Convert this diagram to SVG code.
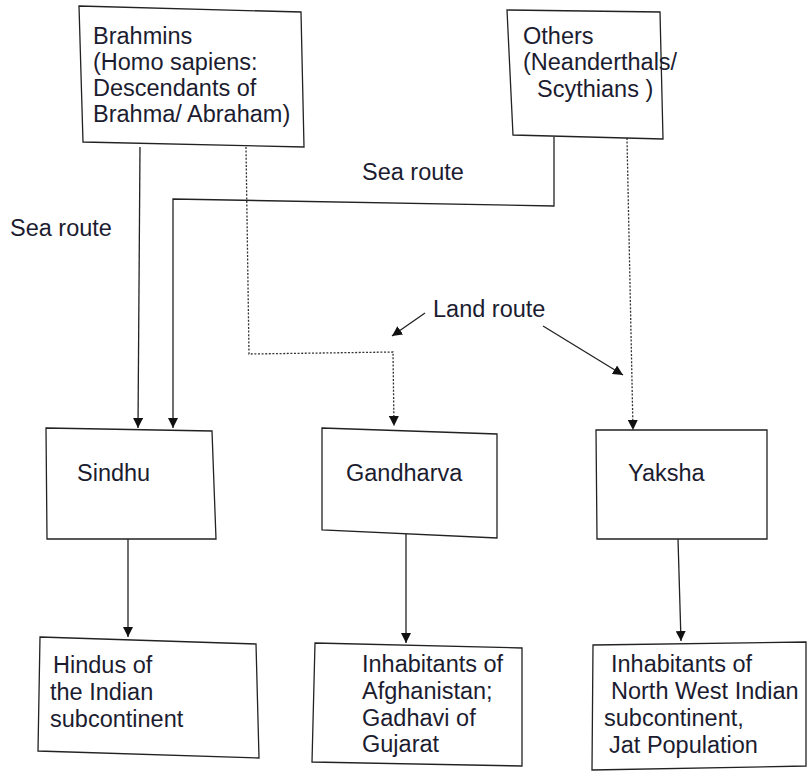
<svg xmlns="http://www.w3.org/2000/svg" width="808" height="775" viewBox="0 0 808 775">
<style>
.box{fill:#fff;stroke:#222;stroke-width:1.3}
.t{font-family:"Liberation Sans",Arial,sans-serif;font-size:23.5px;fill:#1c1c30}
.ln{fill:none;stroke:#222;stroke-width:1.3}
.dt{fill:none;stroke:#333;stroke-width:1.3;stroke-dasharray:2,1.6}
</style>
<defs>
<marker id="ah" viewBox="0 0 10 10" refX="10" refY="5" markerWidth="10" markerHeight="10" markerUnits="userSpaceOnUse" orient="auto">
<path d="M0,0 L10,5 L0,10 z" fill="#111"/>
</marker>
</defs>
<rect width="808" height="775" fill="#fff"/>
<g id="connectors">
<path class="ln" d="M140,147 L138,428" marker-end="url(#ah)"/>
<path class="ln" d="M554,137 L554,206 L173,199 L173,428" marker-end="url(#ah)"/>
<path class="dt" d="M246,147 L249,354 L393,352 L394,426" marker-end="url(#ah)"/>
<path class="dt" d="M627,138 L633,430" marker-end="url(#ah)"/>
<path class="ln" d="M425,313 L392,336" marker-end="url(#ah)"/>
<path class="ln" d="M543,326 L623,375" marker-end="url(#ah)"/>
<path class="ln" d="M128,539 L128,637" marker-end="url(#ah)"/>
<path class="ln" d="M406,532 L406,643" marker-end="url(#ah)"/>
<path class="ln" d="M678,539 L681,641" marker-end="url(#ah)"/>
</g>
<g id="brahmins">
<polygon class="box" points="79,6 301,12 304,147 83,142"/>
<text class="t" x="93" y="44">Brahmins</text>
<text class="t" x="93" y="70">(Homo sapiens:</text>
<text class="t" x="93" y="96">Descendants of</text>
<text class="t" x="93" y="122">Brahma/ Abraham)</text>
</g>
<g id="others">
<polygon class="box" points="507,10 660,12 663,139 513,135"/>
<text class="t" x="523" y="44">Others</text>
<text class="t" x="523" y="70">(Neanderthals/</text>
<text class="t" x="537" y="97">Scythians )</text>
</g>
<g id="labels">
<text class="t" x="362" y="180">Sea route</text>
<text class="t" x="10" y="236">Sea route</text>
<text class="t" x="433" y="317">Land route</text>
</g>
<g id="sindhu">
<polygon class="box" points="46,428 212,431 216,539 47,539"/>
<text class="t" x="77" y="481">Sindhu</text>
</g>
<g id="gandharva">
<polygon class="box" points="322,428 497,434 497,538 322,530"/>
<text class="t" x="346" y="481">Gandharva</text>
</g>
<g id="yaksha">
<polygon class="box" points="596,430 767,430 767,539 597,539"/>
<text class="t" x="628" y="481">Yaksha</text>
</g>
<g id="hindus">
<polygon class="box" points="40,637 256,644 259,758 38,751"/>
<text class="t" x="53" y="673">Hindus of</text>
<text class="t" x="50" y="700">the Indian</text>
<text class="t" x="50" y="727">subcontinent</text>
</g>
<g id="afghanistan">
<polygon class="box" points="315,643 522,648 522,766 312,762"/>
<text class="t" x="362" y="672">Inhabitants of</text>
<text class="t" x="362" y="699">Afghanistan;</text>
<text class="t" x="362" y="726">Gadhavi of</text>
<text class="t" x="362" y="752">Gujarat</text>
</g>
<g id="northwest">
<polygon class="box" points="593,645 806,642 806,766 592,770"/>
<text class="t" x="611" y="672">Inhabitants of</text>
<text class="t" x="611" y="699">North West Indian</text>
<text class="t" x="604" y="726">subcontinent,</text>
<text class="t" x="609" y="753">Jat Population</text>
</g>
</svg>
